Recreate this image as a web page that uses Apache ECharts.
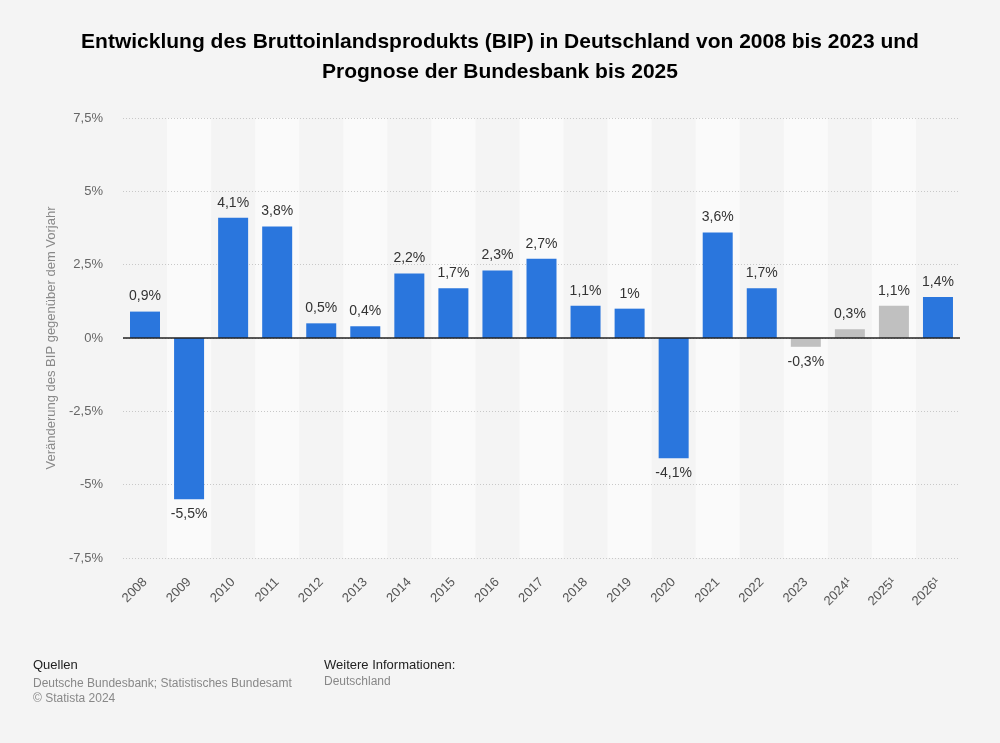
<!DOCTYPE html>
<html><head><meta charset="utf-8">
<script src="https://cdn.jsdelivr.net/npm/echarts@6/dist/echarts.min.js"></script>
<style>html,body{margin:0;padding:0;background:#f4f4f4;}#c{width:1000px;height:743px;}</style>
</head><body><div id="c"></div>
<script>
const categories = ['2008','2009','2010','2011','2012','2013','2014','2015','2016','2017','2018','2019','2020','2021','2022','2023','2024¹','2025¹','2026¹'];
const values = [0.9,-5.5,4.1,3.8,0.5,0.4,2.2,1.7,2.3,2.7,1.1,1.0,-4.1,3.6,1.7,-0.3,0.3,1.1,1.4];
const forecastFlags = [0,0,0,0,0,0,0,0,0,0,0,0,0,0,0,1,1,1,0];
const yTicks = [-7.5,-5,-2.5,0,2.5,5,7.5];

const fmt = v => (Math.round(v*10)/10).toString().replace('.', ',') + '%';
const chart = echarts.init(document.getElementById('c'));
chart.setOption({
  backgroundColor: '#f4f4f4',
  textStyle: {fontFamily: 'Liberation Sans, Arial, sans-serif'},
  title: {
    text: 'Entwicklung des Bruttoinlandsprodukts (BIP) in Deutschland von 2008 bis 2023 und\nPrognose der Bundesbank bis 2025',
    left: 'center', top: 22,
    textStyle: {fontSize: 21, fontWeight: 'bold', color: '#000', lineHeight: 30, fontFamily: 'Liberation Sans, Arial, sans-serif'}
  },
  grid: {left: 123, right: 40, top: 118, height: 440, containLabel: false},
  xAxis: {
    type: 'category', data: categories, z: 0,
    axisLine: {show: false}, axisTick: {show: false},
    splitArea: {show: true, areaStyle: {color: ['rgba(0,0,0,0)', '#fafafa']}},
    axisLabel: {rotate: 45, color: '#555', fontSize: 13, margin: 22, interval: 0}
  },
  yAxis: {
    type: 'value', min: -7.5, max: 7.5, interval: 2.5, z: 1,
    name: 'Veränderung des BIP gegenüber dem Vorjahr',
    nameLocation: 'middle', nameGap: 62,
    nameTextStyle: {color: '#888', fontSize: 13},
    axisLine: {show: false}, axisTick: {show: false},
    axisLabel: {color: '#666', fontSize: 13, margin: 20, formatter: v => fmt(v)},
    splitLine: {lineStyle: {color: '#c8c8c8', type: [1, 2], width: 1}}
  },
  series: [{
    type: 'bar', barWidth: 30, z: 2,
    data: values.map((v, i) => ({value: v, itemStyle: {color: forecastFlags[i] ? '#c0c0c0' : '#2a76dd'}})),
    label: {show: true, position: 'outside', distance: 8, fontSize: 14, color: '#333',
      formatter: p => fmt(p.value)},
    markLine: {silent: true, symbol: 'none', label: {show: false},
      lineStyle: {color: '#222', type: 'solid', width: 1.5},
      data: [{yAxis: 0}]}
  }],
  graphic: [
    {type: 'text', left: 33, top: 659, style: {text: 'Quellen', fill: '#222', fontSize: 13, fontFamily: 'Liberation Sans, Arial, sans-serif'}},
    {type: 'text', left: 33, top: 676, style: {text: 'Deutsche Bundesbank; Statistisches Bundesamt\n© Statista 2024', fill: '#888', fontSize: 12, lineHeight: 15, fontFamily: 'Liberation Sans, Arial, sans-serif'}},
    {type: 'text', left: 324, top: 659, style: {text: 'Weitere Informationen:', fill: '#222', fontSize: 13, fontFamily: 'Liberation Sans, Arial, sans-serif'}},
    {type: 'text', left: 324, top: 676, style: {text: 'Deutschland', fill: '#888', fontSize: 12, fontFamily: 'Liberation Sans, Arial, sans-serif'}}
  ]
});
</script></body></html>
